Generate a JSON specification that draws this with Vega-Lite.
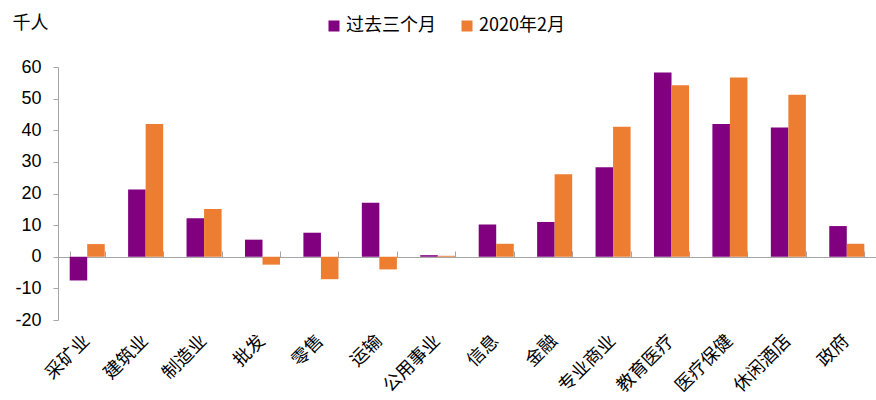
{
  "$schema": "https://vega.github.io/schema/vega-lite/v6.json",
  "autosize": "none",
  "padding": {"left": 58, "top": 67, "right": 0, "bottom": 80},
  "width": 818,
  "height": 253,
  "background": "white",
  "config": {
    "view": {"stroke": null},
    "font": "Liberation Sans",
    "axis": {"domainColor": "#A6A6A6", "tickColor": "#A6A6A6", "labelColor": "#000000", "grid": false}
  },
  "data": {
    "values": [
      {"cat": "采矿业", "series": "过去三个月", "value": -7.5},
      {"cat": "采矿业", "series": "2020年2月", "value": 4.0},
      {"cat": "建筑业", "series": "过去三个月", "value": 21.3},
      {"cat": "建筑业", "series": "2020年2月", "value": 42.0},
      {"cat": "制造业", "series": "过去三个月", "value": 12.2},
      {"cat": "制造业", "series": "2020年2月", "value": 15.1},
      {"cat": "批发", "series": "过去三个月", "value": 5.4},
      {"cat": "批发", "series": "2020年2月", "value": -2.5},
      {"cat": "零售", "series": "过去三个月", "value": 7.6},
      {"cat": "零售", "series": "2020年2月", "value": -7.1},
      {"cat": "运输", "series": "过去三个月", "value": 17.1},
      {"cat": "运输", "series": "2020年2月", "value": -4.0},
      {"cat": "公用事业", "series": "过去三个月", "value": 0.5},
      {"cat": "公用事业", "series": "2020年2月", "value": 0.3},
      {"cat": "信息", "series": "过去三个月", "value": 10.2},
      {"cat": "信息", "series": "2020年2月", "value": 4.1},
      {"cat": "金融", "series": "过去三个月", "value": 11.0},
      {"cat": "金融", "series": "2020年2月", "value": 26.1},
      {"cat": "专业商业", "series": "过去三个月", "value": 28.3},
      {"cat": "专业商业", "series": "2020年2月", "value": 41.1},
      {"cat": "教育医疗", "series": "过去三个月", "value": 58.3},
      {"cat": "教育医疗", "series": "2020年2月", "value": 54.2},
      {"cat": "医疗保健", "series": "过去三个月", "value": 42.0},
      {"cat": "医疗保健", "series": "2020年2月", "value": 56.7},
      {"cat": "休闲酒店", "series": "过去三个月", "value": 40.9},
      {"cat": "休闲酒店", "series": "2020年2月", "value": 51.2},
      {"cat": "政府", "series": "过去三个月", "value": 9.7},
      {"cat": "政府", "series": "2020年2月", "value": 4.1}
    ]
  },
  "encoding": {
    "y": {
      "field": "value", "type": "quantitative",
      "scale": {"domain": [-20, 60], "nice": false, "zero": false},
      "axis": {
        "values": [-20, -10, 0, 10, 20, 30, 40, 50, 60],
        "labelExpr": "'' + datum.value",
        "labelOverlap": false, "labelFlush": false,
        "tickSize": 5, "labelPadding": 12, "labelFontSize": 18,
        "title": "千人", "titleAngle": 0, "titleAlign": "left", "titleBaseline": "alphabetic",
        "titleX": -46, "titleY": -39, "titleFont": "Noto Sans CJK SC",
        "titleFontSize": 18, "titleFontWeight": "normal", "titleColor": "#000000"
      }
    }
  },
  "resolve": {"axis": {"x": "independent"}},
  "layer": [
    {
      "mark": {"type": "bar"},
      "encoding": {
        "x": {
          "field": "cat", "type": "nominal", "sort": null,
          "scale": {"paddingInner": 0.4, "paddingOuter": 0.2},
          "axis": {
            "title": null, "domain": false, "ticks": false,
            "labelAngle": -45, "labelAlign": "right", "labelBaseline": "middle",
            "labelFont": "Noto Sans CJK SC", "labelFontSize": 18, "labelPadding": 18
          }
        },
        "xOffset": {
          "field": "series", "type": "nominal",
          "sort": ["过去三个月", "2020年2月"],
          "scale": {"paddingInner": 0, "paddingOuter": 0}
        },
        "color": {
          "field": "series", "type": "nominal",
          "sort": ["过去三个月", "2020年2月"],
          "scale": {"domain": ["过去三个月", "2020年2月"], "range": ["#800080", "#ED7D31"]},
          "legend": {
            "title": null, "orient": "none", "direction": "horizontal",
            "legendX": 267, "legendY": -50,
            "symbolType": "square", "symbolSize": 121, "symbolStrokeWidth": 0,
            "labelFontSize": 18, "labelFont": "Noto Sans CJK SC", "labelColor": "#000000",
            "columnPadding": 22, "labelOffset": 3
          }
        }
      }
    },
    {
      "mark": {"type": "tick", "opacity": 0},
      "encoding": {
        "x": {
          "field": "cat", "type": "nominal", "sort": null,
          "axis": {
            "orient": "top", "offset": -190, "labels": false, "title": null,
            "tickBand": "extent", "tickSize": 6
          }
        }
      }
    }
  ]
}
